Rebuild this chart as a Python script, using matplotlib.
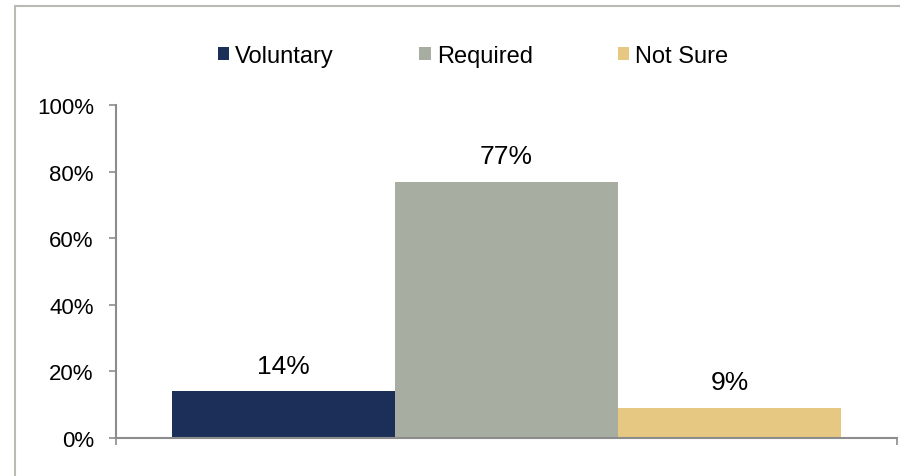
import matplotlib.pyplot as plt
from matplotlib.patches import Patch, Rectangle

plt.rcParams["font.family"] = ["Liberation Sans", "DejaVu Sans"]

categories = ["Voluntary", "Required", "Not Sure"]
shares = [0.14, 0.77, 0.09]
colors = ["#1B2F59", "#A8ADA2", "#E6C882"]
y_ticks = [0, 0.2, 0.4, 0.6, 0.8, 1.0]
y_labels = ["0%", "20%", "40%", "60%", "80%", "100%"]

fig = plt.figure(figsize=(9, 4.77), dpi=100)
ax = fig.add_axes([116 / 900, 1 - 439 / 477, 781 / 900, 333 / 477])

# outer frame, cut off at right and bottom like the original crop
fig.patches.append(
    Rectangle((15 / 900, -0.1), 1.2, 1 - 7 / 477 + 0.1, transform=fig.transFigure,
              fill=False, edgecolor="#B7BBB1", linewidth=1.5)
)

xs = range(len(categories))
for x, value, color, name in zip(xs, shares, colors, categories):
    ax.bar(x, value, width=1.0, color=color, label=name)
    ax.annotate(f"{value:.0%}", (x, value), xytext=(0, 18.5), textcoords="offset points",
                ha="center", va="center", fontsize=19)

ax.set_xlim(-0.75, 2.75)
ax.set_ylim(0, 1.0)
ax.set_yticks(y_ticks)
ax.set_yticklabels(y_labels, fontsize=16)
ax.set_xticks([-0.75, 2.75])
ax.set_xticklabels([])
ax.tick_params(axis="both", direction="out", length=5, width=1.2, color="#8C8C8C", pad=11)

for side in ["top", "right"]:
    ax.spines[side].set_visible(False)
for side in ["left", "bottom"]:
    ax.spines[side].set_color("#8C8C8C")
    ax.spines[side].set_linewidth(1.5)

handles = [Patch(facecolor=c, edgecolor="none") for c in colors]
fig.legend(handles, categories, loc="center", bbox_to_anchor=(473 / 900, 1 - 57 / 477),
           ncol=3, frameon=False, fontsize=17, handlelength=0.5, handleheight=0.5,
           handletextpad=0.25, columnspacing=3.6)

fig.savefig("out.png", dpi=100)
